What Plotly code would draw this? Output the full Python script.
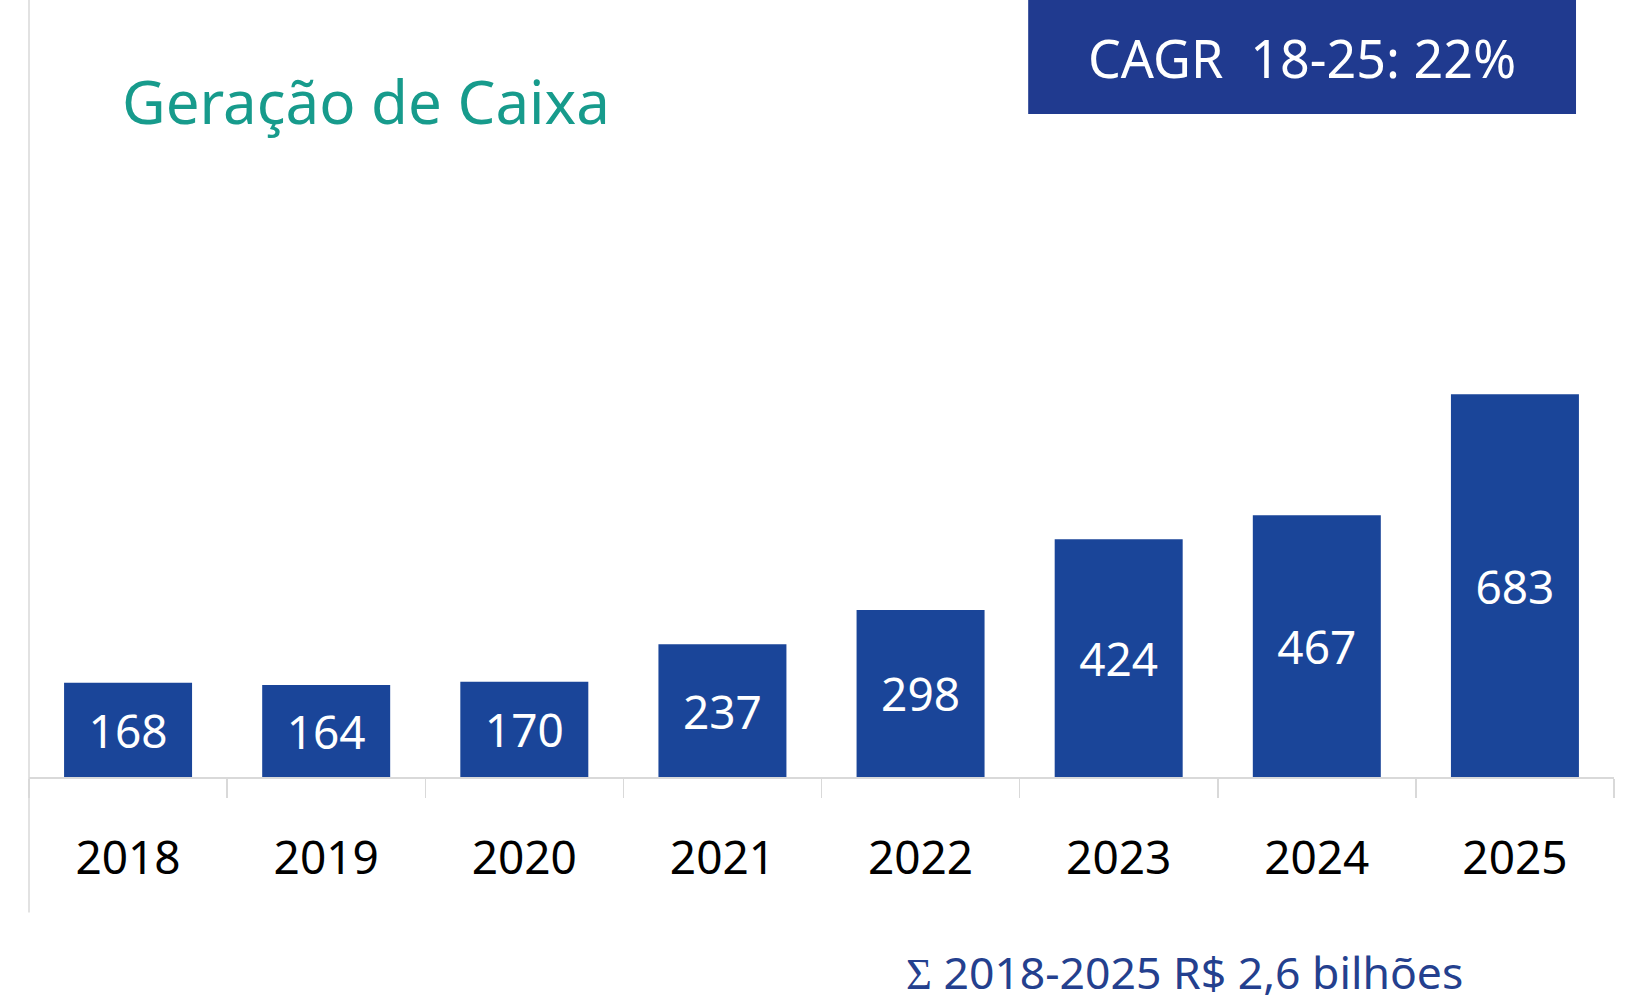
import plotly.graph_objects as go

years = ["2018", "2019", "2020", "2021", "2022", "2023", "2024", "2025"]
values = [168, 164, 170, 237, 298, 424, 467, 683]
title_text = "Geração de Caixa"
cagr_text = "CAGR  18-25: 22%"
total_text = '<span style="font-family:Liberation Serif">Σ</span> 2018-2025 R$ 2,6 bilhões'

W, H = 1628, 1007
ML, MR, MT, MB = 28.5, 14, 50, 229.5
PW, PH = W - ML - MR, H - MT - MB

def px(x):
    return (x - ML) / PW

def py(y):
    return (H - MB - y) / PH

BAR = "#1a4599"
GRID = "#d9d9d9"
FONT = "Noto Sans"

fig = go.Figure()
fig.add_trace(go.Bar(
    x=years, y=values,
    marker=dict(color=BAR, line=dict(width=0)),
    text=[str(v) for v in values],
    textposition="inside",
    insidetextanchor="middle",
    textangle=0,
    textfont=dict(family=FONT, size=46, color="white"),
    cliponaxis=False,
    hoverinfo="skip",
))

fig.update_layout(
    width=W, height=H,
    margin=dict(l=ML, r=MR, t=MT, b=MB, pad=0),
    paper_bgcolor="white", plot_bgcolor="white",
    bargap=0.354,
    showlegend=False,
    font=dict(family=FONT),
    xaxis=dict(
        showline=True, linecolor=GRID, linewidth=1.5,
        ticks="outside", tickson="boundaries", ticklen=19, tickwidth=1.5, tickcolor=GRID,
        tickfont=dict(family=FONT, size=46, color="black"),
        ticklabelstandoff=40,
        showgrid=False, zeroline=False, fixedrange=True,
    ),
    yaxis=dict(
        range=[0, 1297], visible=False, showgrid=False, zeroline=False, fixedrange=True,
    ),
    shapes=[
        dict(type="line", xref="paper", yref="paper", x0=px(28.5), x1=px(28.5),
             y0=py(913), y1=py(0), line=dict(color=GRID, width=1.5), layer="below"),
        dict(type="rect", xref="paper", yref="paper", x0=px(1028), x1=px(1576),
             y0=py(114), y1=py(-5), fillcolor="#203a8f", line=dict(width=0)),
    ],
    annotations=[
        dict(text=title_text, xref="paper", yref="paper", x=px(120), y=py(101),
             xanchor="left", yanchor="middle", showarrow=False,
             font=dict(family=FONT, size=60, color="#179b8c")),
        dict(text=cagr_text, xref="paper", yref="paper", x=px(1302), y=py(58),
             xanchor="center", yanchor="middle", showarrow=False,
             font=dict(family=FONT, size=52, color="white")),
        dict(text=total_text, xref="paper", yref="paper", x=px(1184), y=py(972),
             xanchor="center", yanchor="middle", showarrow=False,
             font=dict(family=FONT, size=44.5, color="#24408e")),
    ],
)

fig.write_html(
    "out.html",
    config={"displayModeBar": False, "staticPlot": True},
    post_script="document.body.style.margin='0';document.body.style.overflow='hidden';",
)
